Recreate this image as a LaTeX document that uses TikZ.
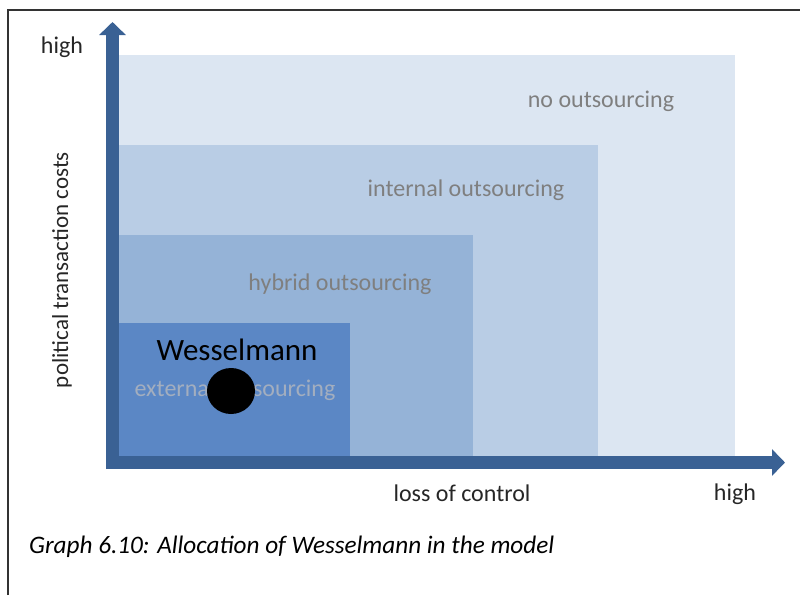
\documentclass[tikz,border=0pt]{standalone}
\usepackage{fontspec}
\setmainfont{Carlito}
\usetikzlibrary{arrows.meta}
\definecolor{axisblue}{HTML}{3A6194}
\definecolor{zonenone}{HTML}{DCE6F2}
\definecolor{zoneinternal}{HTML}{B9CDE5}
\definecolor{zonehybrid}{HTML}{95B3D7}
\definecolor{zoneexternal}{HTML}{5B87C5}
\definecolor{labelgray}{HTML}{7F7F7F}
\definecolor{labellight}{HTML}{A3AEBF}

\begin{document}
\begin{tikzpicture}[
  x=1pt, y=-1pt,
  zone/.style={fill=#1},
  zonelabel/.style={font=\fontsize{24}{28}\selectfont, text=labelgray, inner sep=0pt},
  axislabel/.style={font=\fontsize{24}{28}\selectfont, text=black!85, inner sep=0pt},
  axis/.style={draw=axisblue, line width=13pt, -{Triangle[width=26pt,length=13pt]}}
]
\useasboundingbox (0,0) rectangle (800,595);
% frame
\draw[line width=1.6pt, black!80] (8,595) -- (8,10) -- (800,10);

% zones
\fill[zone=zonenone] (119,55) rectangle (735,456);
\fill[zone=zoneinternal] (119,145) rectangle (598,456);
\fill[zone=zonehybrid] (119,235) rectangle (473,456);
\fill[zone=zoneexternal] (119,323) rectangle (350,456);

\node[zonelabel] (none) at (601,101) {no outsourcing};
\node[zonelabel] (internal) at (466,190) {internal outsourcing};
\node[zonelabel] (hybrid) at (340,284) {hybrid outsourcing};
\node[zonelabel, text=labellight] (external) at (235,390) {external outsourcing};

% axes
\coordinate (ybase) at (112.5,469);
\coordinate (ytip) at (112.5,22);
\coordinate (xbase) at (106,462.5);
\coordinate (xtip) at (785,462.5);
\draw[axis] (ybase) -- (ytip);
\draw[axis] (xbase) -- (xtip);

\node[axislabel] (yhigh) at (62,47) {high};
\node[axislabel] (xhigh) at (735,494) {high};
\node[axislabel] (xtitle) at (462,493) {loss of control};
\node[axislabel, rotate=90, font=\fontsize{23}{27}\selectfont] (ytitle) at (62,270) {political transaction costs};

% position of the firm
\node[font=\fontsize{31}{36}\selectfont, text=black, inner sep=0pt] (firm) at (237,350) {Wesselmann};
\fill[black] (231,391) ellipse [x radius=24pt, y radius=23pt];

% caption
\node[font=\fontsize{25.2}{30}\selectfont\itshape, anchor=west, inner sep=0pt] (caption) at (29,547) {Graph 6.10: Allocation of Wesselmann in the model};
\end{tikzpicture}
\end{document}
